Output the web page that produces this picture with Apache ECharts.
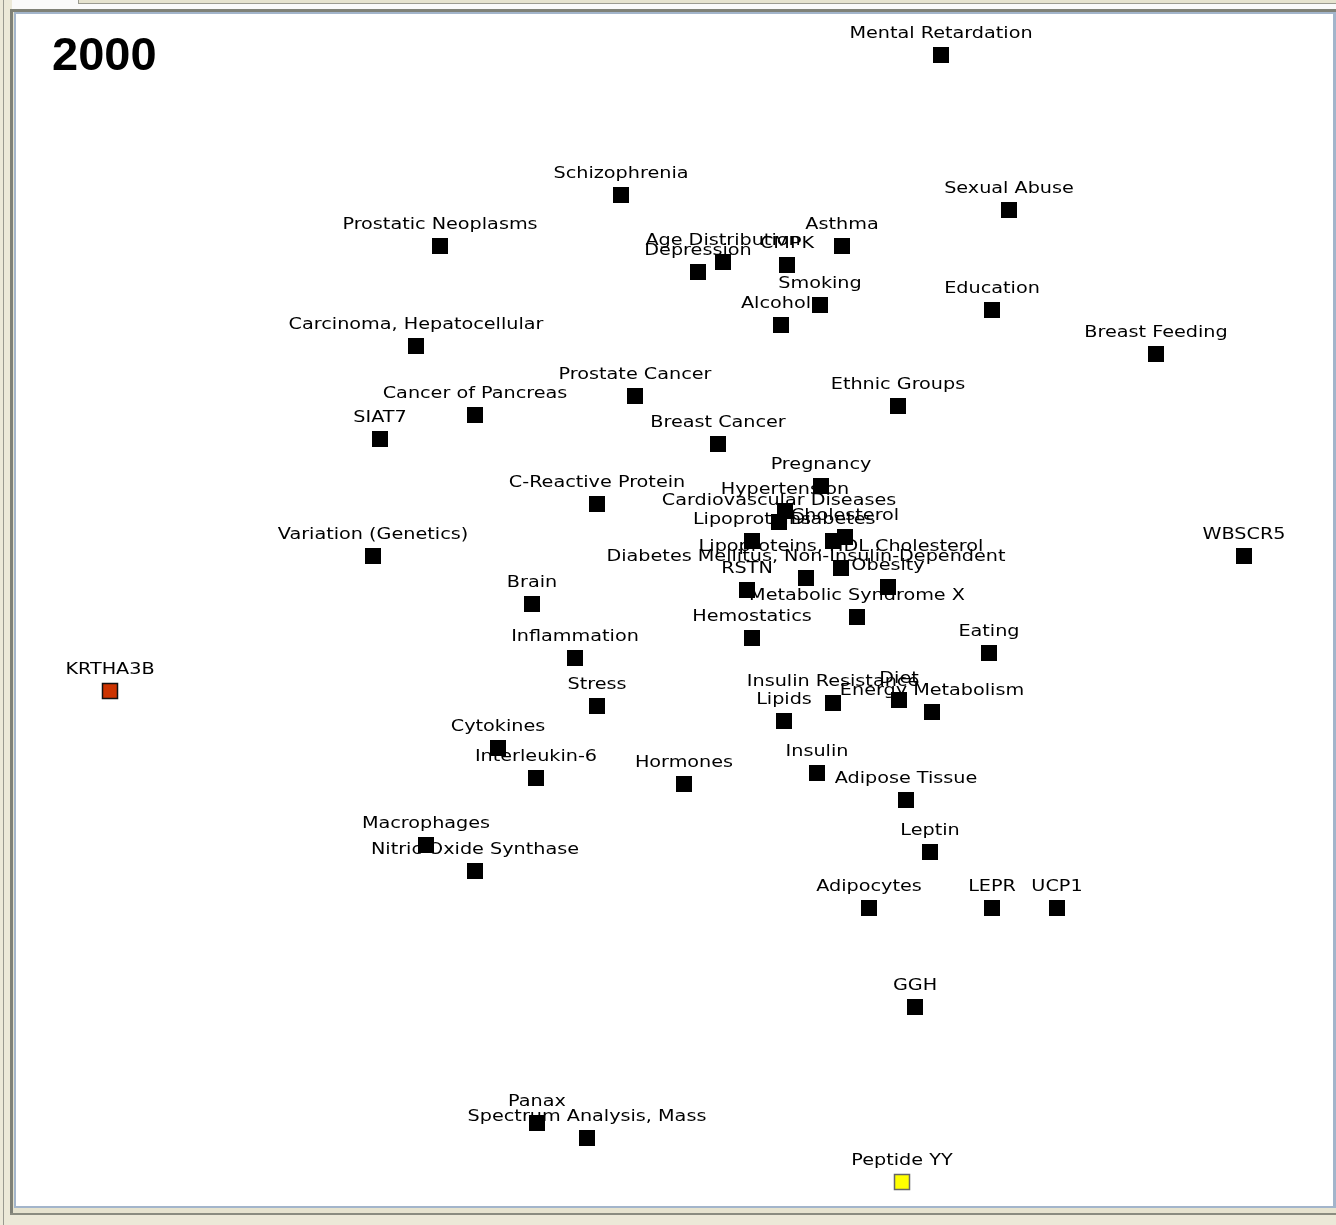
<!DOCTYPE html>
<html>
<head>
<meta charset="utf-8">
<script src="https://cdn.jsdelivr.net/npm/echarts@6/dist/echarts.min.js"></script>
<style>
  html, body { margin: 0; padding: 0; width: 1336px; height: 1225px; overflow: hidden; background: #ECE9D8; }
  #leftline { position: absolute; left: 3px; top: 0; width: 1px; height: 1225px; background: #9a9a90; }
  #topbox { position: absolute; left: 78px; top: 0; width: 1258px; height: 3px; background: #E6E3CF; border-bottom: 1px solid #9a9a90; border-left: 1px solid #9a9a90; }
  #topwhite { position: absolute; left: 12px; top: 0; width: 66px; height: 9px; background: #fafafa; }
  #topwhite2 { position: absolute; left: 12px; top: 4px; width: 1324px; height: 5px; background: #fafafa; }
  #frame { position: absolute; left: 10px; top: 9px; width: 1326px; height: 1204px; border-left: 3px solid #7f8177; border-top: 3px solid #7f8177; box-sizing: border-box; background: #E6E3CF; }
  #inner { position: absolute; left: 14px; top: 12px; width: 1322px; height: 1196px; border: 2px solid #a3b5cb; border-right: 3px solid #a3b5cb; box-sizing: border-box; background: #fff; }
  #bottomline { position: absolute; left: 10px; top: 1213px; width: 1326px; height: 2px; background: #8a8c80; }
  #chart { position: absolute; left: 16px; top: 14px; width: 1317px; height: 1191px; }
</style>
</head>
<body>
<div id="leftline"></div>
<div id="topwhite"></div>
<div id="topwhite2"></div>
<div id="topbox"></div>
<div id="frame"></div>
<div id="inner"></div>
<div id="bottomline"></div>
<div id="chart"></div>
<script>
// Terms (node labels)
const terms = [
  "Mental Retardation", "Schizophrenia", "Sexual Abuse", "Prostatic Neoplasms", "Asthma",
  "Age Distribution", "Depression", "CMPK", "Smoking", "Alcohols",
  "Education", "Breast Feeding", "Carcinoma, Hepatocellular", "Prostate Cancer", "Ethnic Groups",
  "Cancer of Pancreas", "SIAT7", "Breast Cancer", "Pregnancy", "C-Reactive Protein",
  "Hypertension", "Cardiovascular Diseases", "Lipoproteins", "Diabetes", "Cholesterol",
  "Lipoproteins, HDL Cholesterol", "Diabetes Mellitus, Non-Insulin-Dependent", "RSTN", "Obesity", "Metabolic Syndrome X",
  "Hemostatics", "Variation (Genetics)", "Brain", "WBSCR5", "Eating",
  "Inflammation", "KRTHA3B", "Stress", "Insulin Resistance", "Diet",
  "Energy Metabolism", "Lipids", "Cytokines", "Interleukin-6", "Hormones",
  "Insulin", "Adipose Tissue", "Macrophages", "Nitric Oxide Synthase", "Leptin",
  "Adipocytes", "LEPR", "UCP1", "GGH", "Panax",
  "Spectrum Analysis, Mass", "Peptide YY"
];
// Horizontal position of each term (map units)
const xPos = [
  941, 621, 1009, 440, 842,
  723, 698, 787, 820, 781,
  992, 1156, 416, 635, 898,
  475, 380, 718, 821, 597,
  785, 779, 752, 833, 845,
  841, 806, 747, 888, 857,
  752, 373, 532, 1244, 989,
  575, 110, 597, 833, 899,
  932, 784, 498, 536, 684,
  817, 906, 426, 475, 930,
  869, 992, 1057, 915, 537,
  587, 902
];
// Vertical position of each term (map units, measured downward)
const yPos = [
  55, 195, 210, 246, 246,
  262, 272, 265, 305, 325,
  310, 354, 346, 396, 406,
  415, 439, 444, 486, 504,
  511, 522, 541, 541, 537,
  568, 578, 590, 587, 617,
  638, 556, 604, 556, 653,
  658, 691, 706, 703, 700,
  712, 721, 748, 778, 784,
  773, 800, 845, 871, 852,
  908, 908, 908, 1007, 1123,
  1138, 1182
];
const yearLabel = "2000";

// Styling (kept apart from the data)
const specialColor = { "KRTHA3B": "#CC3300", "Peptide YY": "#FFFF00" };

const markerData = terms.map((t, i) => {
  const item = { name: t, value: [xPos[i], yPos[i]] };
  if (specialColor[t]) {
    item.itemStyle = { color: specialColor[t], borderColor: t === "KRTHA3B" ? "#111" : "#666", borderWidth: 1.5, opacity: 1 };
    item.symbolSize = 15;
  }
  return item;
});
const labelData = terms.map((t, i) => [xPos[i], yPos[i], i]);

const chart = echarts.init(document.getElementById('chart'), null, { renderer: 'canvas' });
chart.setOption({
  animation: false,
  backgroundColor: 'transparent',
  grid: { left: 0, right: 0, top: 0, bottom: 0 },
  xAxis: { type: 'value', min: 16, max: 1333, show: false },
  yAxis: { type: 'value', min: 14, max: 1205, inverse: true, show: false },
  graphic: [{
    type: 'text', left: 36, top: 20,
    style: { text: yearLabel, font: 'bold 47px "Liberation Sans", Arial, sans-serif', fill: '#000' }
  }],
  series: [{
    type: 'scatter',
    symbol: 'rect',
    symbolSize: 16,
    clip: false,
    data: markerData,
    itemStyle: { color: '#000', opacity: 1 },
    emphasis: { disabled: true },
    z: 2
  }, {
    type: 'custom',
    clip: false,
    data: labelData,
    encode: { x: 0, y: 1 },
    z: 3,
    silent: true,
    renderItem: function (params, api) {
      const p = api.coord([api.value(0), api.value(1)]);
      return {
        type: 'text',
        x: p[0],
        y: p[1] - 21,
        scaleX: 1.2,
        style: {
          text: terms[api.value(2)],
          font: '16px "DejaVu Sans", Tahoma, sans-serif',
          fill: '#000',
          align: 'center',
          verticalAlign: 'middle'
        }
      };
    }
  }]
});
</script>
</body>
</html>
